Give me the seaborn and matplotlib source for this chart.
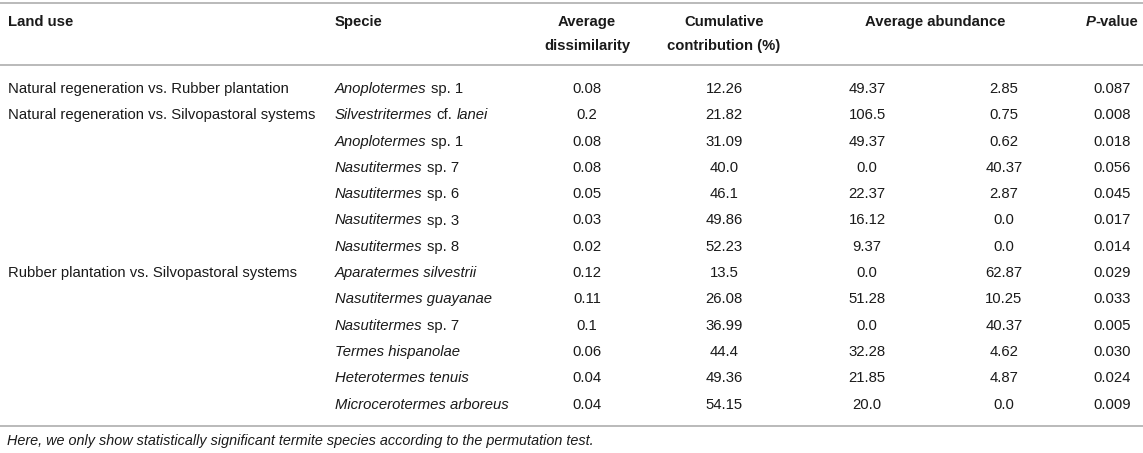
import matplotlib
matplotlib.use("Agg")
import matplotlib.pyplot as plt
import seaborn as sns

# table contents
land_use = [
    "Natural regeneration vs. Rubber plantation",
    "Natural regeneration vs. Silvopastoral systems",
    "", "", "", "", "",
    "Rubber plantation vs. Silvopastoral systems",
    "", "", "", "", "",
]
# *...* marks the italic parts of a name
species = [
    "*Anoplotermes* sp. 1",
    "*Silvestritermes* cf. *lanei*",
    "*Anoplotermes* sp. 1",
    "*Nasutitermes* sp. 7",
    "*Nasutitermes* sp. 6",
    "*Nasutitermes* sp. 3",
    "*Nasutitermes* sp. 8",
    "*Aparatermes silvestrii*",
    "*Nasutitermes guayanae*",
    "*Nasutitermes* sp. 7",
    "*Termes hispanolae*",
    "*Heterotermes tenuis*",
    "*Microcerotermes arboreus*",
]
avg_dissimilarity = ["0.08", "0.2", "0.08", "0.08", "0.05", "0.03", "0.02",
                     "0.12", "0.11", "0.1", "0.06", "0.04", "0.04"]
cum_contribution = ["12.26", "21.82", "31.09", "40.0", "46.1", "49.86", "52.23",
                    "13.5", "26.08", "36.99", "44.4", "49.36", "54.15"]
abundance_a = ["49.37", "106.5", "49.37", "0.0", "22.37", "16.12", "9.37",
               "0.0", "51.28", "0.0", "32.28", "21.85", "20.0"]
abundance_b = ["2.85", "0.75", "0.62", "40.37", "2.87", "0.0", "0.0",
               "62.87", "10.25", "40.37", "4.62", "4.87", "0.0"]
p_value = ["0.087", "0.008", "0.018", "0.056", "0.045", "0.017", "0.014",
           "0.029", "0.033", "0.005", "0.030", "0.024", "0.009"]
footnote = "Here, we only show statistically significant termite species according to the permutation test."

sns.set_theme(style="white")
plt.rcParams["font.family"] = ["Liberation Sans", "DejaVu Sans"]

TXT = "#1a1a1a"
RULE = "#b4b4b4"
FS = 10.7

W, H = 1143, 453
fig = plt.figure(figsize=(W / 100, H / 100), dpi=100)
ax = fig.add_axes([0, 0, 1, 1])
ax.set_xlim(0, W)
ax.set_ylim(H, 0)
ax.axis("off")
renderer = fig.canvas.get_renderer()


def runs_of(s):
    parts = [(p, i % 2 == 1) for i, p in enumerate(s.split("*")) if p]
    runs = []
    for k, (p, it) in enumerate(parts):
        # one space goes in front of a piece if either side of the joint had one
        gap = k > 0 and (p != p.lstrip() or parts[k - 1][0] != parts[k - 1][0].rstrip())
        runs.append((p.strip(), it, gap))
    return runs


def width_of(txt, ital, weight):
    kw = dict(fontsize=FS, style="italic" if ital else "normal", weight=weight)
    t = ax.text(0, 0, txt, **kw)
    w = t.get_window_extent(renderer).width
    t.remove()
    return w


def advance(txt, ital, weight):
    # width up to the start of the next glyph (ignores italic overhang)
    return width_of("n" + txt + "n", ital, weight) - width_of("nn", ital, weight)


def draw_runs(x, y, runs, ha="left", weight="normal"):
    space = width_of("n n", False, weight) - width_of("nn", False, weight)
    offs = [space if gap else 0 for _, _, gap in runs]
    widths = [advance(txt, ital, weight) + o for (txt, ital, _), o in zip(runs, offs)]
    start = x if ha == "left" else x - sum(widths) / 2
    for (txt, ital, _), w, o in zip(runs, widths, offs):
        ax.text(start + o, y, txt, fontsize=FS, color=TXT, va="center",
                ha="left", style="italic" if ital else "normal", weight=weight)
        start += w


col_land, col_spec = 8, 335
col_dis, col_cum, col_ab1, col_ab2, col_p = 587, 724, 867, 1004, 1112

# header
hy1, hy2 = 22, 46
ax.text(col_land, hy1, "Land use", fontsize=FS, color=TXT, weight="bold", va="center")
ax.text(col_spec, hy1, "Specie", fontsize=FS, color=TXT, weight="bold", va="center")
for x, lines in [(col_dis, ["Average", "dissimilarity"]),
                 (col_cum, ["Cumulative", "contribution (%)"])]:
    for yy, line in zip([hy1, hy2], lines):
        ax.text(x, yy, line, fontsize=FS, color=TXT, weight="bold",
                ha="center", va="center")
ax.text((col_ab1 + col_ab2) / 2, hy1, "Average abundance", fontsize=FS,
        color=TXT, weight="bold", ha="center", va="center")
draw_runs(col_p, hy1, [("P", True, False), ("-value", False, False)],
          ha="center", weight="bold")

# body
y0, dy = 89, 26.3
for i in range(len(species)):
    y = y0 + i * dy
    if land_use[i]:
        ax.text(col_land, y, land_use[i], fontsize=FS, color=TXT, va="center")
    draw_runs(col_spec, y, runs_of(species[i]))
    for x, col in [(col_dis, avg_dissimilarity), (col_cum, cum_contribution),
                   (col_ab1, abundance_a), (col_ab2, abundance_b), (col_p, p_value)]:
        ax.text(x, y, col[i], fontsize=FS, color=TXT, ha="center", va="center")

# rules
for yy in [3, 64.5, 426]:
    ax.axhline(yy, color=RULE, lw=1.3)

ax.text(col_land - 1, 441, footnote, fontsize=FS - 0.3, color=TXT,
        style="italic", va="center")

fig.savefig("out.png", dpi=100)
